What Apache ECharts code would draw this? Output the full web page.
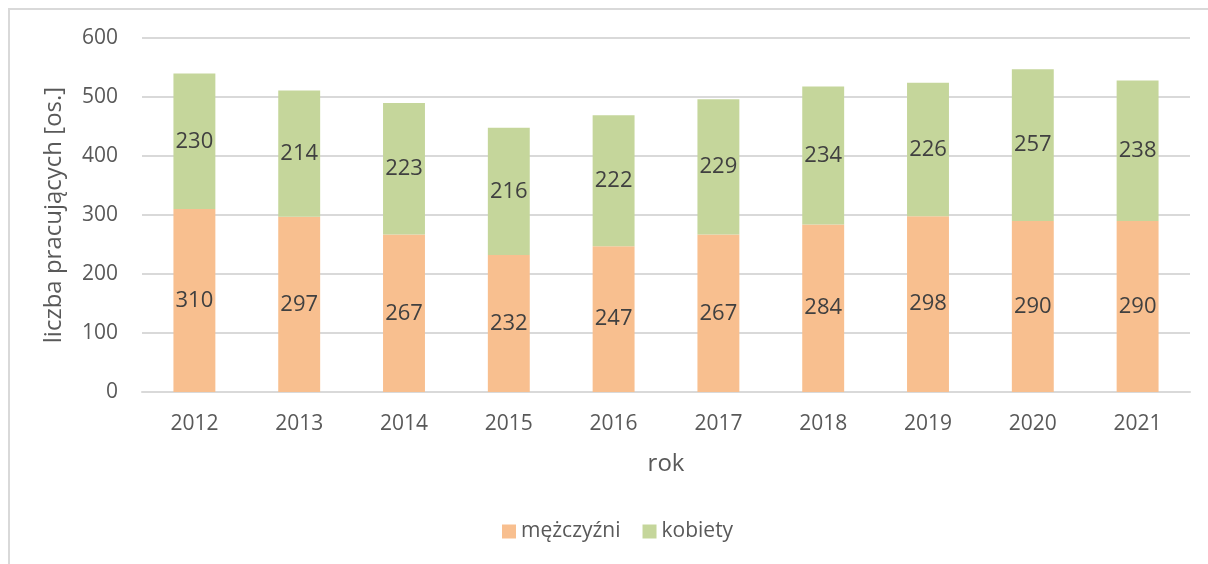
<!DOCTYPE html>
<html>
<head>
<meta charset="utf-8">
<script src="https://cdn.jsdelivr.net/npm/echarts@6/dist/echarts.min.js"></script>
<style>
    html, body { margin: 0; padding: 0; background: #fff; }
    #chart { width: 1208px; height: 564px; }
</style>
</head>
<body>
<div id="chart"></div>
<script>
// lata
var years = ['2012', '2013', '2014', '2015', '2016', '2017', '2018', '2019', '2020', '2021'];
// liczba pracujących
var men = [310, 297, 267, 232, 247, 267, 284, 298, 290, 290];
var women = [230, 214, 223, 216, 222, 229, 234, 226, 257, 238];

var font = 'Open Sans';

var chart = echarts.init(document.getElementById('chart'));
var option = {
    animation : false,
    textStyle : {
        fontFamily : font
    },
    graphic : [ {
        type : 'rect',
        shape : { x : 9, y : 9, width : 1220, height : 580 },
        style : { fill : 'none', stroke : '#d9d9d9', lineWidth : 2 }
    } ],
    legend : {
        bottom : 17,
        left : 497,
        itemWidth : 14,
        itemHeight : 14,
        itemGap : 22,
        icon : 'rect',
        textStyle : {
            fontFamily : font,
            fontSize : 21,
            color : '#595959'
        },
        data : [ 'mężczyźni', 'kobiety' ]
    },
    grid : {
        left : 142,
        right : 18,
        top : 38,
        bottom : 172
    },
    xAxis : {
        type : 'category',
        data : years,
        name : 'rok',
        nameLocation : 'middle',
        nameGap : 60,
        nameTextStyle : {
            fontSize : 24,
            color : '#595959'
        },
        axisTick : { show : false },
        axisLine : { lineStyle : { color : '#d9d9d9', width : 2 } },
        axisLabel : {
            margin : 22,
            fontSize : 21,
            color : '#595959'
        }
    },
    yAxis : {
        type : 'value',
        min : 0,
        max : 600,
        interval : 100,
        name : 'liczba pracujących [os.]',
        nameLocation : 'middle',
        nameGap : 76,
        nameTextStyle : {
            fontSize : 24,
            color : '#595959'
        },
        axisLabel : {
            margin : 24,
            fontSize : 21,
            color : '#595959'
        },
        splitLine : { lineStyle : { color : '#d9d9d9', width : 2 } }
    },
    series : [ {
        name : 'mężczyźni',
        type : 'bar',
        stack : 'suma',
        barWidth : '40%',
        data : men,
        itemStyle : { color : '#f8bf8f' },
        label : {
            show : true,
            position : 'inside',
            fontSize : 22,
            color : '#404040'
        }
    }, {
        name : 'kobiety',
        type : 'bar',
        stack : 'suma',
        barWidth : '40%',
        data : women,
        itemStyle : { color : '#c5d69b' },
        label : {
            show : true,
            position : 'inside',
            fontSize : 22,
            color : '#404040'
        }
    } ]
};
chart.setOption(option);
</script>
</body>
</html>
